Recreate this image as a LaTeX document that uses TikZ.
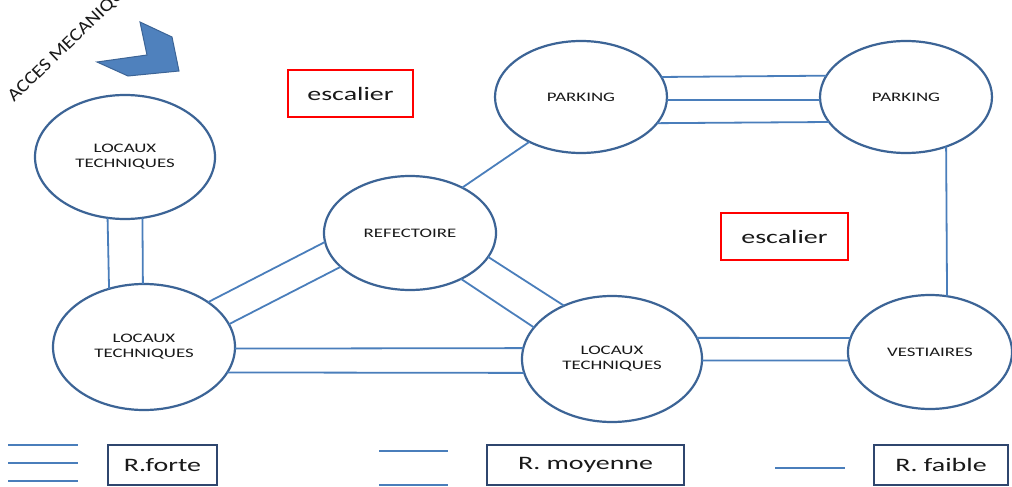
\documentclass[tikz,border=0pt]{standalone}
\usepackage{fontspec}
\setmainfont{Carlito}
\newfontfamily\elfont[FakeStretch=1.45]{Carlito}
\newfontfamily\boxfont[FakeStretch=1.47]{Carlito}
\newfontfamily\accfont[FakeStretch=1.15]{Carlito}
\usetikzlibrary{shapes.geometric}
\definecolor{lineblue}{RGB}{74,126,187}
\definecolor{edgeblue}{RGB}{60,100,150}
\definecolor{fillblue}{RGB}{79,129,189}
\definecolor{navy}{RGB}{47,70,110}
\definecolor{txt}{RGB}{25,25,25}
\begin{document}
\begin{tikzpicture}[x=1pt,y=-1pt,
  room/.style={ellipse, draw=edgeblue, line width=2.2pt, inner sep=0pt, outer sep=0pt,
    align=center, text=txt, font=\elfont\fontsize{13}{15}\selectfont},
  link/.style={draw=lineblue, line width=1.8pt},
  stairbox/.style={draw=red, line width=2pt, inner sep=0pt, outer sep=0pt, text=txt,
    font=\boxfont\fontsize{19}{21}\selectfont, minimum height=47pt},
  legbox/.style={draw=navy, line width=1.8pt, inner sep=0pt, outer sep=0pt, text=txt,
    font=\boxfont\fontsize{19}{21}\selectfont, minimum height=40pt}]
\useasboundingbox (0,0) rectangle (1012,487);
\clip (0,0) rectangle (1012,487);
\fill[white] (0,0) rectangle (1012,487);

% rooms
\node[room, minimum width=180pt, minimum height=124pt] (lt1) at (125,157) {LOCAUX\\TECHNIQUES};
\node[room, minimum width=182pt, minimum height=126pt] (lt2) at (144,347) {LOCAUX\\TECHNIQUES};
\node[room, minimum width=172pt, minimum height=114pt] (ref) at (410,233) {REFECTOIRE};
\node[room, minimum width=172pt, minimum height=112pt] (pl) at (581,97) {PARKING};
\node[room, minimum width=172pt, minimum height=112pt] (pr) at (906,97) {PARKING};
\node[room, minimum width=180pt, minimum height=126pt] (lt3) at (612,359) {LOCAUX\\TECHNIQUES};
\node[room, minimum width=164pt, minimum height=114pt] (ves) at (930,352) {VESTIAIRES};

% stairs
\node[stairbox, minimum width=125pt] (e1) at (350.5,93.5) {escalier};
\node[stairbox, minimum width=127pt] (e2) at (784.5,236.5) {escalier};

% access arrow and label
\filldraw[fill=fillblue, draw=edgeblue, line width=1pt]
  (140,22) -- (172,37) -- (179,71) -- (128,76) -- (97,62) -- (147,55) -- cycle;
\node[anchor=base west, rotate=44, inner sep=0pt, text=txt,
  font=\accfont\fontsize{18}{18}\selectfont] (acc) at (14,103) {ACCES MECANIQUE};

% links
\draw[link] (lt1.254.4) -- (lt2.121.9);
\draw[link] (lt1.286.5) -- (lt2.91);
\draw[link] (lt2.35.1) -- (ref.186.6);
\draw[link] (lt2.15.9) -- (ref.206.2);
\draw[link] (ref.343.3) -- (lt3.132.7);
\draw[link] (ref.318.5) -- (lt3.158.8);
\draw[link] (lt2.-1.3) -- (lt3.173.5);
\draw[link] (lt2.-17.4) -- (lt3.189);
\draw[link] (lt3.14) -- (ves.170);
\draw[link] (lt3.-1) -- (ves.186.3);
\draw[link] (ref.41.5) -- (pl.221.4);
\draw[link] (pl.14.8) -- (pr.165.2);
\draw[link] (pl.358) -- (pr.182);
\draw[link] (pl.341.2) -- (pr.198.8);
\draw[link] (pr.309.8) -- (ves.73.1);

% legend
\coordinate (fa1) at (8,445);  \coordinate (fb1) at (78,445);
\coordinate (fa2) at (8,463);  \coordinate (fb2) at (78,463);
\coordinate (fa3) at (8,481);  \coordinate (fb3) at (78,481);
\draw[link] (fa1) -- (fb1);
\draw[link] (fa2) -- (fb2);
\draw[link] (fa3) -- (fb3);
\coordinate (ma1) at (379,451); \coordinate (mb1) at (448,451);
\coordinate (ma2) at (379,485); \coordinate (mb2) at (448,485);
\draw[link] (ma1) -- (mb1);
\draw[link] (ma2) -- (mb2);
\coordinate (wa) at (775,468); \coordinate (wb) at (845,468);
\draw[link] (wa) -- (wb);
\node[legbox, minimum width=109pt] (lf) at (162.5,465) {R.forte};
\node[legbox, minimum width=197pt] (lm) at (585.5,465) {R. moyenne};
\node[legbox, minimum width=134pt] (lw) at (941,465) {R. faible};
\end{tikzpicture}
\end{document}
